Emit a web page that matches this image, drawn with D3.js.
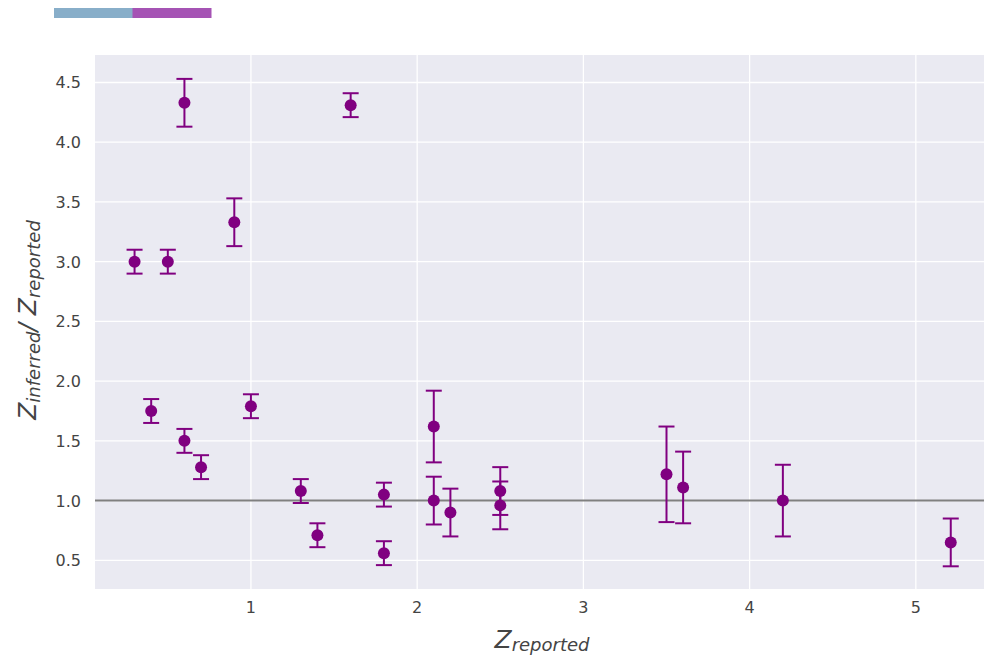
<!DOCTYPE html>
<html>
<head>
<meta charset="utf-8">
<script src="https://cdn.jsdelivr.net/npm/d3@7"></script>
<style>
  body { margin: 0; background: #fff; }
  svg { display: block; font-family: "DejaVu Sans", sans-serif; }
</style>
</head>
<body>
<div id="chart"></div>
<script>
// data
var zReported = [0.3, 0.4, 0.5, 0.6, 0.6, 0.7, 0.9, 1.0, 1.3, 1.4, 1.6, 1.8, 1.8, 2.1, 2.1, 2.2, 2.5, 2.5, 3.5, 3.6, 4.2, 5.21];
var zRatio    = [3.0, 1.75, 3.0, 4.33, 1.5, 1.28, 3.33, 1.79, 1.08, 0.71, 4.31, 1.05, 0.56, 1.62, 1.0, 0.9, 1.08, 0.96, 1.22, 1.11, 1.0, 0.65];
var zErr      = [0.1, 0.1, 0.1, 0.2, 0.1, 0.1, 0.2, 0.1, 0.1, 0.1, 0.1, 0.1, 0.1, 0.3, 0.2, 0.2, 0.2, 0.2, 0.4, 0.3, 0.3, 0.2];
var xTicks = [1, 2, 3, 4, 5];
var yTicks = [0.5, 1.0, 1.5, 2.0, 2.5, 3.0, 3.5, 4.0, 4.5];
var paletteColors = ["#88aec9", "#a553b4"];

var w = 984, h = 658;
var pLeft = 95, pRight = 984, pTop = 55, pBottom = 589;

var svg = d3.select("#chart").append("svg")
    .attr("width", w)
    .attr("height", h);

// palette strip at the top
var strip = d3.scaleBand().domain(d3.range(paletteColors.length)).range([54, 211]);
svg.selectAll("rect.pal")
    .data(paletteColors)
    .enter()
    .append("rect")
    .attr("class", "pal")
    .attr("x", (d, i) => strip(i))
    .attr("y", 8)
    .attr("width", strip.bandwidth() + 0.5)
    .attr("height", 10)
    .attr("fill", d => d);

var x = d3.scaleLinear().domain([0.062, 5.41]).range([pLeft, pRight]);
var y = d3.scaleLinear().domain([0.26, 4.73]).range([pBottom, pTop]);

svg.append("rect")
    .attr("x", pLeft).attr("y", pTop)
    .attr("width", pRight - pLeft).attr("height", pBottom - pTop)
    .attr("fill", "#eaeaf2");

// grid
svg.selectAll("line.gx")
    .data(xTicks)
    .enter()
    .append("line")
    .attr("x1", d => x(d)).attr("x2", d => x(d))
    .attr("y1", pTop).attr("y2", pBottom)
    .attr("stroke", "#fff").attr("stroke-width", 1.3);

svg.selectAll("line.gy")
    .data(yTicks)
    .enter()
    .append("line")
    .attr("x1", pLeft).attr("x2", pRight)
    .attr("y1", d => y(d)).attr("y2", d => y(d))
    .attr("stroke", "#fff").attr("stroke-width", 1.3);

// tick labels
svg.selectAll("text.tx")
    .data(xTicks)
    .enter()
    .append("text")
    .text(d => d)
    .attr("x", d => x(d))
    .attr("y", 613)
    .attr("text-anchor", "middle")
    .attr("font-size", 16)
    .attr("fill", "#444");

svg.selectAll("text.ty")
    .data(yTicks)
    .enter()
    .append("text")
    .text(d => d3.format(".1f")(d))
    .attr("x", 81)
    .attr("y", d => y(d) + 6)
    .attr("text-anchor", "end")
    .attr("font-size", 16)
    .attr("fill", "#444");

// reference line at 1
svg.append("line")
    .attr("x1", pLeft).attr("x2", pRight)
    .attr("y1", y(1)).attr("y2", y(1))
    .attr("stroke", "#808080").attr("stroke-width", 2);

// error bars
var pts = zReported.map((d, i) => ({ x: d, y: zRatio[i], e: zErr[i] }));
var col = "#800080";

var eb = svg.append("g").attr("stroke", col).attr("stroke-width", 2);
eb.selectAll("line.v")
    .data(pts)
    .enter()
    .append("line")
    .attr("x1", d => x(d.x)).attr("x2", d => x(d.x))
    .attr("y1", d => y(d.y + d.e)).attr("y2", d => y(d.y - d.e));
eb.selectAll("line.top")
    .data(pts)
    .enter()
    .append("line")
    .attr("x1", d => x(d.x) - 8).attr("x2", d => x(d.x) + 8)
    .attr("y1", d => y(d.y + d.e)).attr("y2", d => y(d.y + d.e));
eb.selectAll("line.bot")
    .data(pts)
    .enter()
    .append("line")
    .attr("x1", d => x(d.x) - 8).attr("x2", d => x(d.x) + 8)
    .attr("y1", d => y(d.y - d.e)).attr("y2", d => y(d.y - d.e));

svg.selectAll("circle")
    .data(pts)
    .enter()
    .append("circle")
    .attr("cx", d => x(d.x))
    .attr("cy", d => y(d.y))
    .attr("r", 6)
    .attr("fill", col);

// axis labels
var xl = svg.append("text")
    .attr("x", 542).attr("y", 648)
    .attr("text-anchor", "middle")
    .attr("font-style", "italic")
    .attr("fill", "#444");
xl.append("tspan").attr("font-size", 25).text("Z");
xl.append("tspan").attr("font-size", 18).attr("dy", 3).text("reported");

var yl = svg.append("text")
    .attr("transform", "translate(36,320) rotate(-90)")
    .attr("text-anchor", "middle")
    .attr("font-style", "italic")
    .attr("fill", "#444");
yl.append("tspan").attr("font-size", 25).text("Z");
yl.append("tspan").attr("font-size", 18).attr("dy", 4).text("inferred");
yl.append("tspan").attr("font-size", 25).attr("dy", -4).text("/ Z");
yl.append("tspan").attr("font-size", 18).attr("dy", 4).text("reported");
</script>
</body>
</html>
